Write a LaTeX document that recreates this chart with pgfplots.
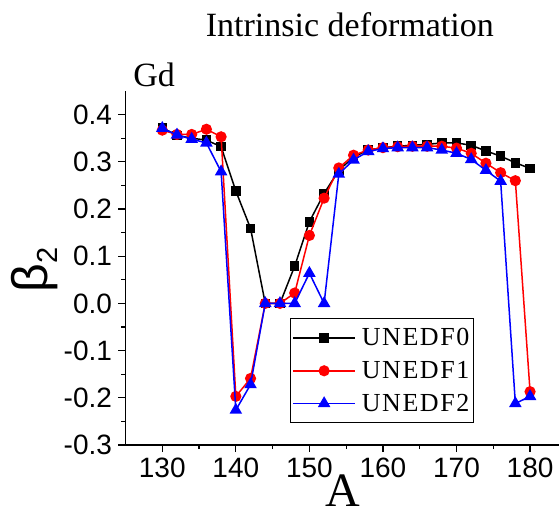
\documentclass[border=0pt]{standalone}
\usepackage{pgfplots}
\usepackage{pgfplotstable}
\pgfplotsset{compat=1.18}
\usepackage{fontspec}
\setmainfont{Liberation Serif}
\newfontfamily\sansf{Liberation Sans}
\newfontfamily\legf[LetterSpace=6]{Liberation Serif}

\pgfplotstableread{
A b
130 0.372
132 0.356
134 0.350
136 0.346
138 0.332
140 0.238
142 0.159
144 0.000
146 0.000
148 0.079
150 0.173
152 0.233
154 0.282
156 0.310
158 0.325
160 0.330
162 0.333
164 0.335
166 0.337
168 0.340
170 0.340
172 0.335
174 0.323
176 0.312
178 0.298
180 0.286
}\unedfA

\pgfplotstableread{
A b
130 0.367
132 0.358
134 0.358
136 0.369
138 0.353
140 -0.197
142 -0.159
144 0.000
146 0.000
148 0.022
150 0.144
152 0.223
154 0.287
156 0.314
158 0.325
160 0.330
162 0.332
164 0.333
166 0.333
168 0.333
170 0.329
172 0.318
174 0.297
176 0.277
178 0.260
180 -0.187
}\unedfB

\pgfplotstableread{
A b
130 0.371
132 0.357
134 0.348
136 0.340
138 0.279
140 -0.226
142 -0.172
144 0.000
146 0.000
148 0.000
150 0.064
152 0.000
154 0.274
156 0.304
158 0.322
160 0.328
162 0.330
164 0.330
166 0.330
168 0.325
170 0.318
172 0.305
174 0.282
176 0.259
178 -0.212
180 -0.197
}\unedfC

\begin{document}
\begin{tikzpicture}
\path[use as bounding box] (-125.5pt,-72pt) rectangle (434.5pt,445pt);
\begin{axis}[
  at={(0pt,0pt)}, anchor=south west,
  width=434pt, height=354pt, scale only axis,
  xmin=125, xmax=184, ymin=-0.3, ymax=0.45,
  clip mode=individual,
  axis lines*=left,
  xtick pos=bottom, ytick pos=left,
  tick align=outside,
  major tick length=7pt, minor tick length=4pt,
  xtick={130,140,150,160,170,180},
  minor x tick num=1,
  ytick={-0.3,-0.2,-0.1,0,0.1,0.2,0.3,0.4},
  yticklabels={-0.3,-0.2,-0.1,0.0,0.1,0.2,0.3,0.4},
  minor y tick num=1,
  every tick/.style={black, line width=1.2pt},
  axis line style={black, line width=1.6pt},
  /pgf/number format/assume math mode=true,
  tick label style={font=\sansf\fontsize{28}{28}\selectfont},
  xticklabel style={yshift=-2pt},
  yticklabel style={xshift=-3pt},
  title={Intrinsic deformation},
  title style={at={(axis description cs:0.517,1.169)}, anchor=center, font=\fontsize{34}{34}\selectfont},
  xlabel={A},
  xlabel style={at={(axis description cs:0.501,-0.174)}, anchor=base, inner sep=0pt, font=\fontsize{48}{48}\selectfont},
  ylabel={{\sansf\fontsize{50}{50}\selectfont β\raisebox{-0.35ex}{\fontsize{29}{29}\selectfont 2}}},
  ylabel style={at={(axis description cs:-0.2085,0.494)}, anchor=center, rotate=0},
  legend style={at={(axis description cs:0.379,0.358)}, anchor=north west,
    draw=black, line width=0.8pt, font=\legf\fontsize{26}{26}\selectfont,
    inner xsep=2pt, inner ysep=8pt, row sep=10pt, column sep=4pt},
  legend cell align=left,
  legend image code/.code={\draw[mark repeat=2,mark phase=2,#1] plot coordinates {(0pt,0pt) (31pt,0pt) (62pt,0pt)};},
]
\addplot[black, line width=1.5pt, mark=square*, mark size=4pt, mark options={solid}] table[x=A,y=b] {\unedfA};
\addlegendentry{UNEDF0}
\addplot[red, line width=1.5pt, mark=*, mark size=4.8pt, mark options={solid}] table[x=A,y=b] {\unedfB};
\addlegendentry{UNEDF1}
\addplot[blue, line width=1.5pt, mark=triangle*, mark size=5.8pt, mark options={solid}] table[x=A,y=b] {\unedfC};
\addlegendentry{UNEDF2}
\node[anchor=center, font=\fontsize{34}{34}\selectfont] at (axis description cs:0.066,1.045) {Gd};
\end{axis}
\end{tikzpicture}
\end{document}
